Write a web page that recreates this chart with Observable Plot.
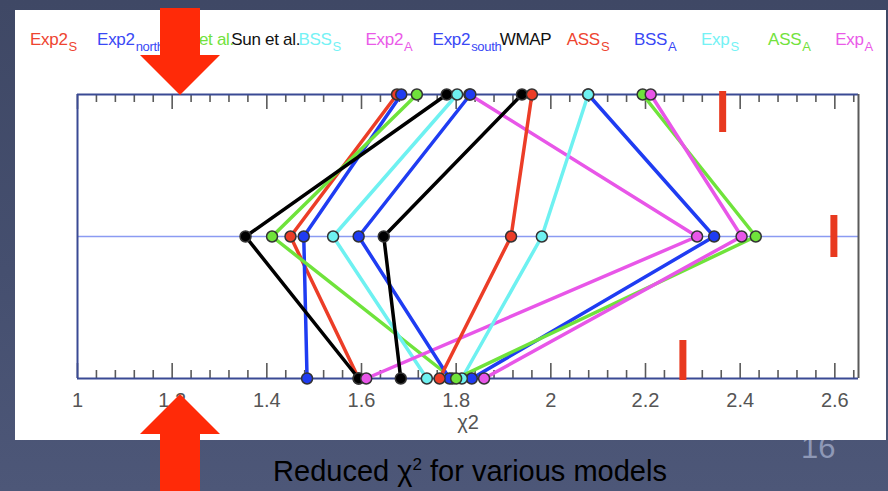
<!DOCTYPE html>
<html>
<head>
<meta charset="utf-8">
<script src="https://cdn.jsdelivr.net/npm/d3@7"></script>
<script src="https://cdn.jsdelivr.net/npm/@observablehq/plot@0.6"></script>
<style>
  html, body { margin: 0; padding: 0; }
  body {
    width: 888px; height: 491px; overflow: hidden; position: relative;
    background: linear-gradient(180deg, #3f4865 0%, #454f6f 55%, #4d5778 100%);
    font-family: "Liberation Sans", Arial, Helvetica, sans-serif;
  }
  #pageno { position: absolute; left: 801px; top: 432px; font-size: 31px; line-height: 31px; color: #8e98b6; }
  #panel { position: absolute; left: 15px; top: 10px; width: 871px; height: 430px; background: #fff; }
  #legend span.item { position: absolute; top: 31px; font-size: 17px; line-height: 17px; white-space: nowrap; letter-spacing: -0.3px; }
  #legend span.item sub { font-size: 13px; position: relative; top: 6px; vertical-align: baseline; margin-left: 1px; }
  #caption { position: absolute; left: 0; width: 940px; top: 457px; text-align: center; font-size: 29px; line-height: 29px; color: #000; }
  #caption sup { font-size: 17px; vertical-align: 11px; line-height: 0; }
  .arrow { position: absolute; background: #ff2a08; }
</style>
</head>
<body>
<div id="pageno">16</div>
<div id="panel"></div>
<div id="legend"></div>
<div id="caption">Reduced χ<sup>2</sup> for various models</div>
<div class="arrow" id="arrowDown"></div>
<div class="arrow" id="arrowUp"></div>
<script>
// Models, in legend order
const models = ["Exp2_S", "Exp2_north", "Han et al.", "Sun et al.", "BSS_S", "Exp2_A",
                "Exp2_south", "WMAP", "ASS_S", "BSS_A", "Exp_S", "ASS_A", "Exp_A"];
const labelMain = ["Exp2", "Exp2", "Han et al.", "Sun et al.", "BSS", "Exp2",
                   "Exp2", "WMAP", "ASS", "BSS", "Exp", "ASS", "Exp"];
const labelSub = ["S", "north", "", "", "S", "A", "south", "", "S", "A", "S", "A", "A"];
const colors = ["#ec3d27", "#1f3cf2", "#6fe33b", "#000000", "#6ef1f1", "#e856e8",
                "#1f3cf2", "#000000", "#ec3d27", "#1f3cf2", "#6ef1f1", "#6fe33b", "#e856e8"];
const legendColors = ["#ee4430", "#3a48f5", "#72e23c", "#111111", "#74f2f5", "#ea5ae8",
                      "#3a48f5", "#111111", "#ee4430", "#3a48f5", "#74f2f5", "#72e23c", "#ea5ae8"];

// Reduced chi-squared per model for the three data sets (top, middle, bottom rows)
const chiTop    = [1.675, 1.684, 1.717, 1.780, 1.802, 1.828, 1.830, 1.939, 1.960, 2.079, 2.079, 2.194, 2.211];
const chiMiddle = [1.450, 1.478, 1.411, 1.355, 1.540, 2.309, 1.594, 1.647, 1.916, 2.345, 1.981, 2.433, 2.403];
const chiBottom = [1.594, 1.485, 1.792, 1.594, 1.738, 1.610, 1.786, 1.683, 1.765, 1.833, 1.812, 1.800, 1.859];

// Reference value marked on each row (top, middle, bottom)
const refValues = [2.363, 2.598, 2.279];

// Axis
const xDomain = [1, 2.65];
const xTickLabels = [1, 1.2, 1.4, 1.6, 1.8, 2, 2.2, 2.4, 2.6];
const minorStep = 0.04;

const W = 871, H = 430, mt = 84, mb = 62, ml = 62, mr = 28;
const rowPx = (H - mt - mb) / 2;         // pixels between rows
const px = p => p / rowPx;               // pixel length -> row units

// Rows: 2 = top, 1 = middle, 0 = bottom
const points = [];
models.forEach((m, i) => {
  points.push({model: m, row: 2, chi: chiTop[i]});
  points.push({model: m, row: 1, chi: chiMiddle[i]});
  points.push({model: m, row: 0, chi: chiBottom[i]});
});

const refs = refValues.map((v, k) => {
  const row = 2 - k;
  if (row === 2) return {x: v, y1: 2 + px(3), y2: 2 - px(38)};
  if (row === 1) return {x: v, y1: 1 + px(21), y2: 1 - px(21)};
  return {x: v, y1: px(38), y2: -px(2)};
});

const nMinor = Math.floor((xDomain[1] - xDomain[0]) / minorStep + 1e-9);
const ticks = d3.range(0, nMinor + 1).map(k => {
  const v = +(xDomain[0] + k * minorStep).toFixed(2);
  const major = Math.abs(v * 5 - Math.round(v * 5)) < 1e-6;
  return {v, len: major ? 15 : 8};
});

const chart = Plot.plot({
  width: W, height: H,
  marginLeft: ml, marginRight: mr, marginTop: mt, marginBottom: mb,
  x: {domain: xDomain},
  y: {domain: [0, 2], axis: null},
  color: {domain: models, range: colors},
  style: {fontFamily: "'Liberation Sans', Arial, Helvetica, sans-serif", color: "#555", background: "transparent"},
  marks: [
    Plot.ruleY([1], {stroke: "#8b9bf2", strokeWidth: 1.3}),
    Plot.ruleX(ticks, {x: "v", y1: 0, y2: d => px(d.len), stroke: "#5a5a5a", strokeWidth: 1.6}),
    Plot.ruleX(ticks, {x: "v", y1: 2, y2: d => 2 - px(d.len), stroke: "#5a5a5a", strokeWidth: 1.6}),
    Plot.ruleY([0, 2], {stroke: "#3a4a94", strokeWidth: 2}),
    Plot.ruleX([xDomain[0]], {y1: 0, y2: 2, stroke: "#3a4a94", strokeWidth: 2}),
    Plot.ruleX([xDomain[1]], {y1: 0, y2: 2, stroke: "#5a5a5a", strokeWidth: 2}),
    Plot.line(points, {x: "chi", y: "row", z: "model", stroke: "model", strokeWidth: 3.5, strokeLinejoin: "round"}),
    Plot.dot(points, {x: "chi", y: "row", fill: "model", stroke: "#333", strokeWidth: 1.5, r: 5.5}),
    Plot.ruleX(refs, {x: "x", y1: "y1", y2: "y2", stroke: "#e8391f", strokeWidth: 7}),
    Plot.axisX(xTickLabels, {anchor: "bottom", tickSize: 0, tickPadding: 14, fontSize: 20,
                             tickFormat: d => d3.format("~g")(d), label: null}),
    Plot.text(["χ2"], {frameAnchor: "bottom", dy: 50, fontSize: 20, fill: "#555"})
  ]
});
document.getElementById("panel").appendChild(chart);

// Legend row
const legend = document.getElementById("legend");
models.forEach((m, i) => {
  const s = document.createElement("span");
  s.className = "item";
  s.style.left = (30 + 67.1 * i) + "px";
  s.style.color = legendColors[i];
  s.textContent = labelMain[i];
  if (labelSub[i]) {
    const sub = document.createElement("sub");
    sub.textContent = labelSub[i];
    s.appendChild(sub);
  }
  legend.appendChild(s);
});

// Slide arrows pointing at the axis
const down = document.getElementById("arrowDown");
Object.assign(down.style, {left: "140px", top: "8px", width: "80px", height: "87px",
  clipPath: "polygon(20px 0, 60px 0, 60px 47px, 80px 47px, 40px 87px, 0 47px, 20px 47px)"});
const up = document.getElementById("arrowUp");
Object.assign(up.style, {left: "140px", top: "394px", width: "80px", height: "97px",
  clipPath: "polygon(40px 0, 80px 40px, 60px 40px, 60px 97px, 20px 97px, 20px 40px, 0 40px)"});
</script>
</body>
</html>
